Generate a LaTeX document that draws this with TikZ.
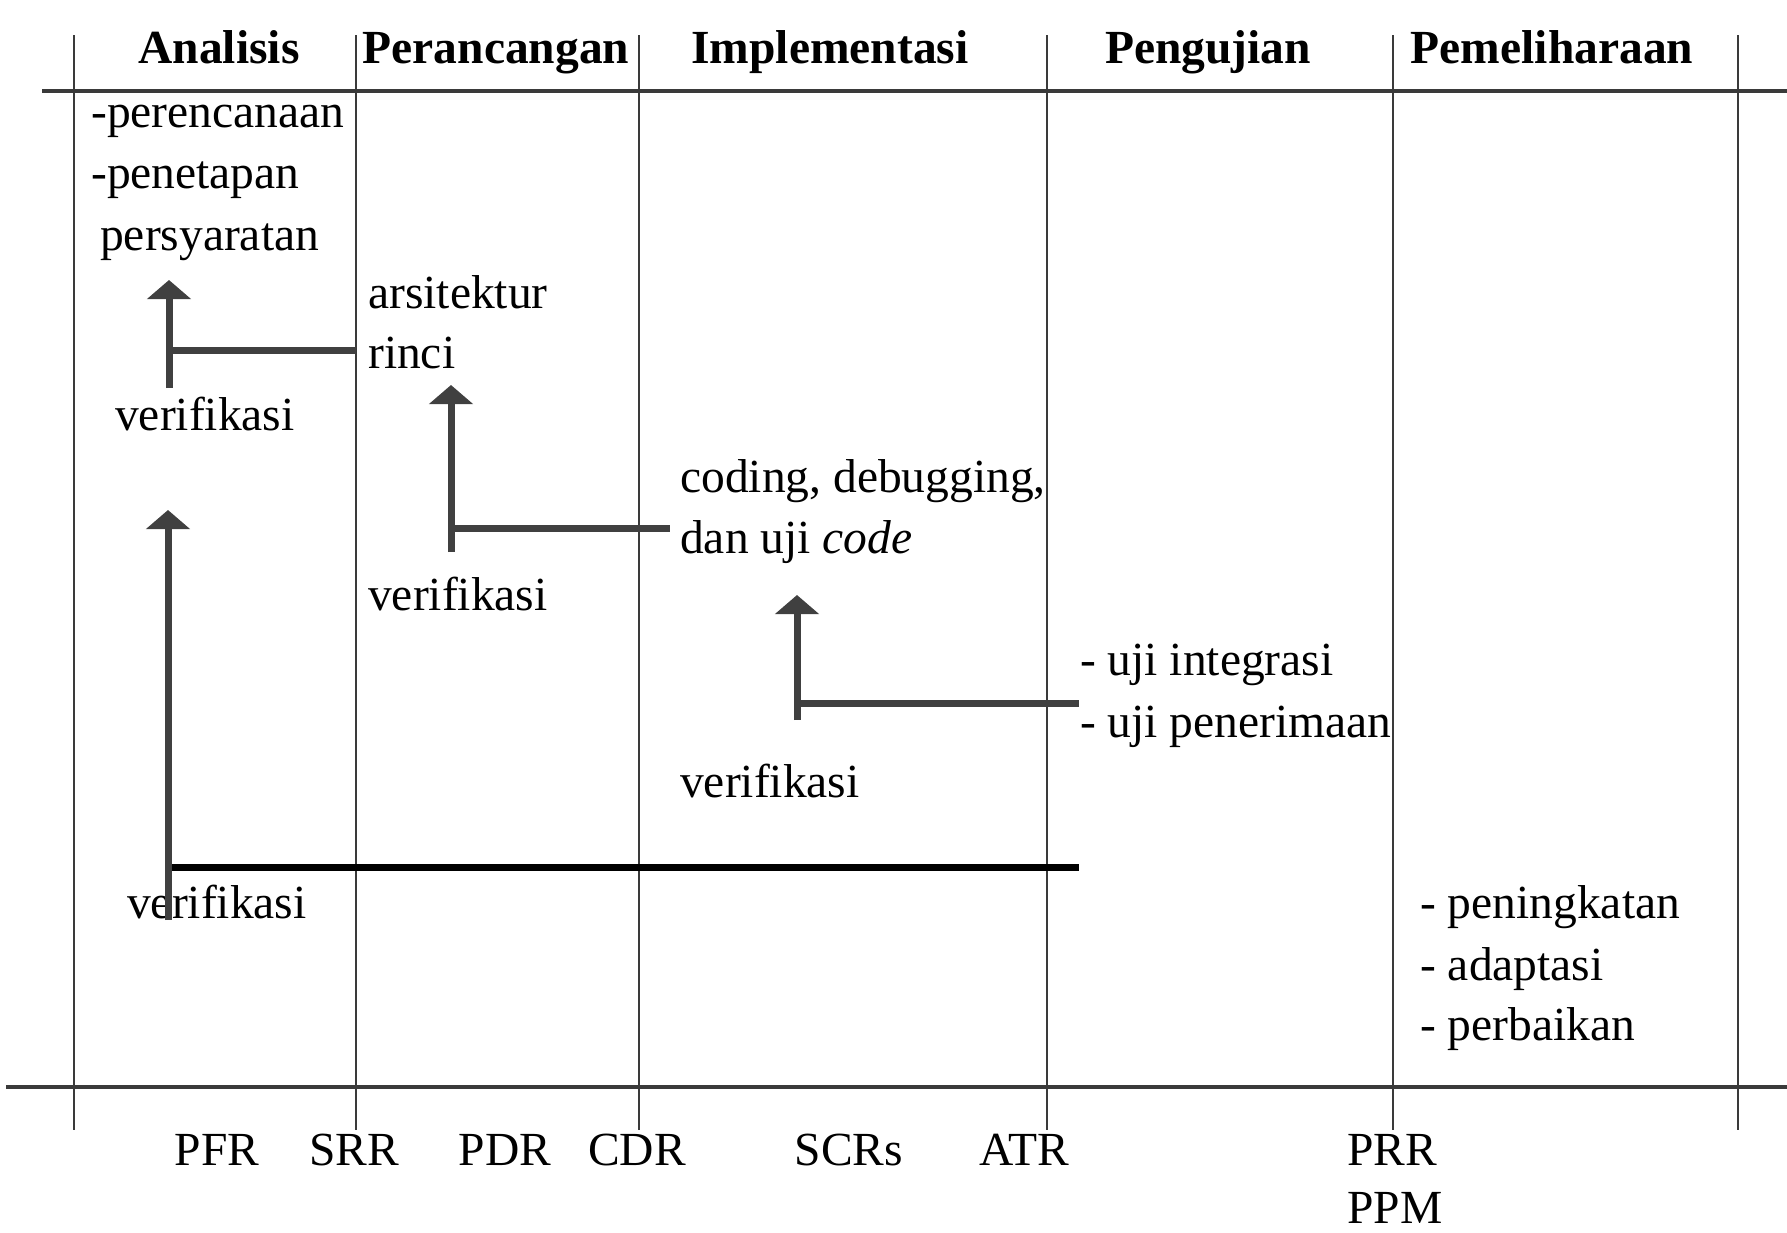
\documentclass[tikz,border=0pt]{standalone}
\usepackage{fontspec}
\setmainfont{Liberation Serif}
\usetikzlibrary{arrows.meta}

\definecolor{rule}{HTML}{3A3A3A}
\definecolor{arrowgray}{HTML}{404040}

\tikzset{
  txt/.style={inner sep=0pt, anchor=base west, font=\fontsize{47.5pt}{61pt}\selectfont},
  ctxt/.style={txt, anchor=base},
  head/.style={inner sep=0pt, anchor=base, font=\fontsize{47.5pt}{61pt}\selectfont\bfseries},
  divider/.style={draw=rule, line width=2.4pt},
  hrule/.style={draw=rule, line width=4pt},
  up/.style={draw=arrowgray, line width=7pt, -{Triangle[width=43pt,length=19pt]}},
  feed/.style={draw=arrowgray, line width=7pt},
  feedblack/.style={draw=black, line width=7pt}
}

\begin{document}
\begin{tikzpicture}[x=1pt, y=-1pt]
\useasboundingbox (0,0) rectangle (1787,1232);

% phase dividers
\foreach \xx in {74,356,639,1047,1393,1738}
  \draw[divider] (\xx,35) -- (\xx,1130);

% header and footer rules
\draw[hrule] (42,91) -- (1787,91);
\draw[hrule] (6,1087) -- (1787,1087);

% phase titles
\node[head] (hAna) at (219,63) {Analisis};
\node[head] (hPer) at (496,63) {Perancangan};
\node[head] (hImp) at (830,63) {Implementasi};
\node[head] (hPen) at (1208,63) {Pengujian};
\node[head] (hPem) at (1552,63) {Pemeliharaan};

% activities
\node[txt] (a1) at (91,127) {-perencanaan};
\node[txt] (a2) at (91,188) {-penetapan};
\node[txt] (a3) at (100,250) {persyaratan};
\node[txt] (d1) at (368,308) {arsitektur};
\node[txt] (d2) at (368,368) {rinci};
\node[txt] (v1) at (115,430) {verifikasi};
\node[txt] (i1) at (680,492) {coding, debugging,};
\node[txt] (i2) at (680,553) {dan uji \textit{code}};
\node[txt] (v2) at (368,610) {verifikasi};
\node[txt] (t1) at (1080,675) {- uji integrasi};
\node[txt] (t2) at (1080,737) {- uji penerimaan};
\node[txt] (v3) at (680,797) {verifikasi};
\node[txt] (v4) at (127,918) {verifikasi};
\node[txt] (m1) at (1420,918) {- peningkatan};
\node[txt] (m2) at (1420,980) {- adaptasi};
\node[txt] (m3) at (1420,1040) {- perbaikan};

% milestones
\node[ctxt] (pfr) at (217,1165) {PFR};
\node[ctxt] (srr) at (354,1165) {SRR};
\node[ctxt] (pdr) at (505,1165) {PDR};
\node[ctxt] (cdr) at (637,1165) {CDR};
\node[ctxt] (scr) at (849,1165) {SCRs};
\node[ctxt] (atr) at (1024,1165) {ATR};
\node[txt]  (prr) at (1347,1165) {PRR};
\node[txt]  (ppm) at (1347,1223) {PPM};

% verification feedback paths
\coordinate (f1s) at (169,388);  \coordinate (f1t) at (169,280);
\coordinate (f1j) at (169,350);  \coordinate (f1e) at (356,350);
\coordinate (f2s) at (451,552);  \coordinate (f2t) at (451,385);
\coordinate (f2j) at (451,528);  \coordinate (f2e) at (670,528);
\coordinate (f3s) at (797,720);  \coordinate (f3t) at (797,595);
\coordinate (f3j) at (797,703);  \coordinate (f3e) at (1079,703);
\coordinate (f4s) at (168,920);  \coordinate (f4t) at (168,510);
\coordinate (f4j) at (168,867);  \coordinate (f4e) at (1079,867);

\draw[feed] (f1j) -- (f1e);
\draw[up] (f1s) -- (f1t);
\draw[feed] (f2j) -- (f2e);
\draw[up] (f2s) -- (f2t);
\draw[feed] (f3j) -- (f3e);
\draw[up] (f3s) -- (f3t);
\draw[feedblack] (f4j) -- (f4e);
\draw[up] (f4s) -- (f4t);
\end{tikzpicture}
\end{document}
